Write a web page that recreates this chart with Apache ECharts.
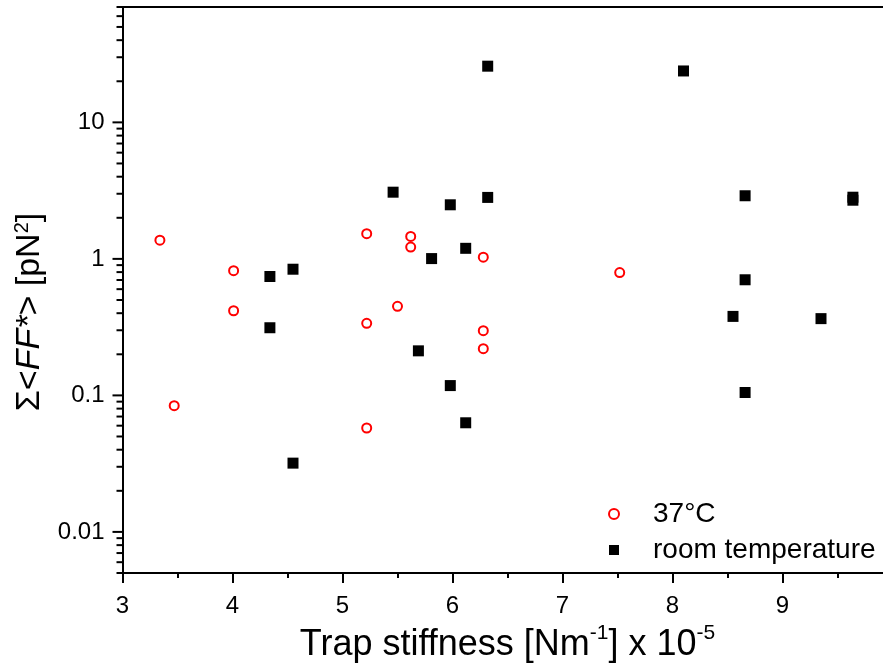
<!DOCTYPE html>
<html><head><meta charset="utf-8">
<script src="https://cdn.jsdelivr.net/npm/echarts@6/dist/echarts.min.js"></script>
<style>html,body{margin:0;padding:0;background:#fff;}#c{width:883px;height:670px;}</style>
</head><body><div id="c"></div>
<script>
// ---- data ----
const warmX = [3.34, 3.47, 4.01, 4.01, 5.22, 5.22, 5.22, 5.50, 5.62, 5.62, 6.28, 6.28, 6.28, 7.52];
const warmY = [1.37, 0.084, 0.82, 0.417, 1.53, 0.337, 0.0577, 0.449, 1.46, 1.22, 1.03, 0.298, 0.22, 0.794];
const roomX = [4.34, 4.55, 4.34, 4.55, 5.46, 5.69, 5.81, 5.98, 5.98, 6.12, 6.12, 6.32, 6.32, 8.10, 8.66, 8.66, 8.55, 8.66, 9.35, 9.64, 9.64];
const roomY = [0.743, 0.84, 0.313, 0.0319, 3.08, 0.212, 1.005, 2.49, 0.118, 1.195, 0.063, 25.8, 2.82, 23.8, 2.90, 0.703, 0.379, 0.105, 0.365, 2.83, 2.69];
const seriesNames = ['37°C', 'room temperature'];
const xRange = [3, 10];
const yRange = [0.005, 70];
const yMajorTicks = [0.01, 0.1, 1, 10];
const yMinorTicks = [0.005, 0.006, 0.007, 0.008, 0.009,
  0.02, 0.03, 0.04, 0.05, 0.06, 0.07, 0.08, 0.09,
  0.2, 0.3, 0.4, 0.5, 0.6, 0.7, 0.8, 0.9,
  2, 3, 4, 5, 6, 7, 8, 9,
  20, 30, 40, 50, 60, 70];

const FF = "'Liberation Sans', Arial, sans-serif";
const pair = (xs, ys) => xs.map((x, i) => [x, ys[i]]);
const tickData = yMajorTicks.map(v => [xRange[0], v, 1]).concat(yMinorTicks.map(v => [xRange[0], v, 0]));

const chart = echarts.init(document.getElementById('c'), null, {renderer: 'canvas'});
chart.setOption({
  animation: false,
  backgroundColor: '#fff',
  grid: {left: 122.5, right: -9.5, top: 7, bottom: 97, containLabel: false, outerBoundsMode: 'none'},
  legend: {
    orient: 'vertical', left: 603, top: 495,
    itemWidth: 10, itemHeight: 10, itemGap: 8,
    data: [{name: seriesNames[0], icon: 'circle'}, {name: seriesNames[1], icon: 'rect'}],
    textStyle: {fontSize: 28, lineHeight: 28, color: '#000', fontFamily: FF, padding: [0, 0, 0, 29]}
  },
  xAxis: [{
    type: 'value', min: xRange[0], max: xRange[1], interval: 1,
    axisLine: {show: true, onZero: false, lineStyle: {color: '#000', width: 2}},
    axisTick: {show: true, length: 10, lineStyle: {color: '#000', width: 2}},
    minorTick: {show: true, splitNumber: 2, length: 5, lineStyle: {color: '#000', width: 2}},
    splitLine: {show: false}, minorSplitLine: {show: false},
    axisLabel: {fontSize: 24, color: '#000', fontFamily: FF, margin: 21, showMaxLabel: false},
    name: 'Trap stiffness [Nm{sup|-1}] x 10{sup|-5}',
    nameLocation: 'middle', nameGap: 50,
    nameTextStyle: {fontSize: 36, lineHeight: 44, color: '#000', fontFamily: FF,
      rich: {sup: {fontSize: 21, lineHeight: 24, color: '#000', fontFamily: FF, verticalAlign: 'top'}}}
  }, {
    type: 'value', position: 'top', min: xRange[0], max: xRange[1],
    axisLine: {show: true, onZero: false, lineStyle: {color: '#000', width: 2}},
    axisTick: {show: false}, axisLabel: {show: false}, splitLine: {show: false}
  }],
  yAxis: [{
    type: 'log', logBase: 10, min: yRange[0], max: yRange[1],
    axisLine: {show: true, onZero: false, lineStyle: {color: '#000', width: 2}},
    axisTick: {show: false},
    splitLine: {show: false},
    axisLabel: {fontSize: 24, color: '#000', fontFamily: FF, margin: 18, showMinLabel: false, showMaxLabel: false},
    name: 'Σ<{i|FF*}> [pN{sup|2}]',
    nameLocation: 'middle', nameRotate: 90, nameGap: 72,
    nameTextStyle: {fontSize: 34, color: '#000', fontFamily: FF, padding: [0, 44, 0, 0],
      rich: {
        i: {fontSize: 34, color: '#000', fontFamily: FF, fontStyle: 'italic'},
        sup: {fontSize: 20, color: '#000', fontFamily: FF, verticalAlign: 'top'}
      }}
  }],
  series: [{
    name: seriesNames[0], type: 'scatter', symbol: 'circle', symbolSize: 9,
    itemStyle: {color: 'rgba(0,0,0,0)', borderColor: '#ff0000', borderWidth: 2, opacity: 1},
    data: pair(warmX, warmY), z: 3
  }, {
    name: seriesNames[1], type: 'scatter', symbol: 'rect', symbolSize: 11,
    itemStyle: {color: '#000', opacity: 1},
    data: pair(roomX, roomY), z: 2
  }, {
    name: 'yticks', type: 'custom', silent: true, clip: false, z: 5,
    data: tickData,
    renderItem: function (params, api) {
      const p = api.coord([api.value(0), api.value(1)]);
      const len = api.value(2) ? 10 : 6;
      return {type: 'line', shape: {x1: p[0] - len, y1: p[1], x2: p[0], y2: p[1]},
        style: {stroke: '#000', lineWidth: 2}};
    }
  }]
});
</script>
</body></html>
